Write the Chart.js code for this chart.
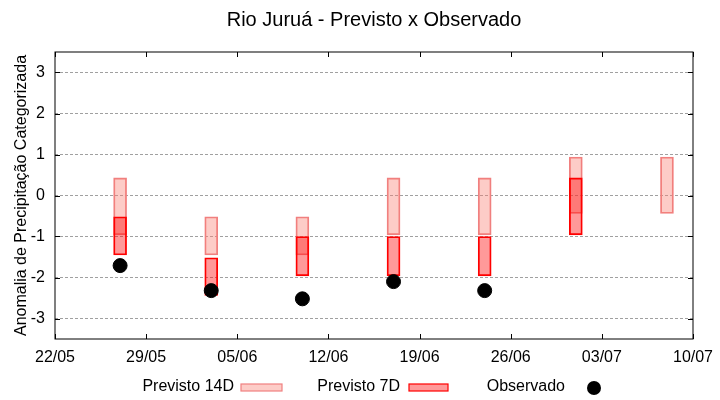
<!DOCTYPE html>
<html>
<head>
<meta charset="utf-8">
<script src="https://cdn.jsdelivr.net/npm/chart.js@4"></script>
<style>
  body { margin: 0; background: #fff; }
  #wrap { width: 720px; height: 400px; }
</style>
</head>
<body>
<div id="wrap"><canvas id="chart"></canvas></div>
<script>
// dias contados a partir de 22/05
const tickLabels = ['22/05', '29/05', '05/06', '12/06', '19/06', '26/06', '03/07', '10/07'];
const yTicks = [-3, -2, -1, 0, 1, 2, 3];
const days = [5, 12, 19, 26, 33, 40, 47];
const prev14Low = [-0.96, -1.45, -1.45, -0.96, -0.96, -0.44, -0.44];
const prev14High = [0.43, -0.52, -0.52, 0.43, 0.43, 0.94, 0.94];
const prev7Low = [-1.45, -2.44, -1.96, -1.96, -1.96, -0.96, null];
const prev7High = [-0.52, -1.52, -1.0, -1.0, -1.0, 0.43, null];
const observado = [-1.71, -2.32, -2.52, -2.1, -2.32, null, null];

const FONT = 'Liberation Sans, Arial, sans-serif';
Chart.defaults.font.family = FONT;
Chart.defaults.color = '#000';

const fill14 = 'rgba(250,128,114,0.4)';
const line14 = 'rgb(240,128,128)';
const fill7 = 'rgba(255,0,0,0.4)';
const line7 = 'rgb(255,0,0)';

function ranges(lo, hi) {
  const out = [];
  days.forEach((d, i) => {
    if (lo[i] !== null && hi[i] !== null) out.push({ x: d, y: [lo[i], hi[i]] });
  });
  return out;
}

const obsPoints = [];
days.forEach((d, i) => { if (observado[i] !== null) obsPoints.push({ x: d, y: observado[i] }); });

// moldura e marcas internas no estilo gnuplot
const frame = {
  id: 'frame',
  afterDraw(chart) {
    const { ctx, chartArea: a, scales: { x, y } } = chart;
    ctx.save();
    ctx.strokeStyle = '#000';
    ctx.lineWidth = 1;
    ctx.strokeRect(a.left, a.top, a.right - a.left, a.bottom - a.top);
    ctx.beginPath();
    x.ticks.forEach(t => {
      const px = Math.round(x.getPixelForValue(t.value)) + 0.5;
      ctx.moveTo(px, a.bottom); ctx.lineTo(px, a.bottom - 5);
      ctx.moveTo(px, a.top); ctx.lineTo(px, a.top + 5);
    });
    y.ticks.forEach(t => {
      const py = Math.round(y.getPixelForValue(t.value)) + 0.5;
      ctx.moveTo(a.left, py); ctx.lineTo(a.left + 5, py);
      ctx.moveTo(a.right, py); ctx.lineTo(a.right - 5, py);
    });
    ctx.stroke();
    ctx.restore();
  }
};

// legenda embaixo: texto, depois a amostra
const bottomLegend = {
  id: 'bottomLegend',
  afterDraw(chart) {
    const ctx = chart.ctx;
    const yc = 387;
    ctx.save();
    ctx.font = '16px ' + FONT;
    ctx.fillStyle = '#000';
    ctx.textAlign = 'right';
    ctx.textBaseline = 'middle';
    ctx.fillText('Previsto 14D', 234, yc);
    ctx.fillText('Previsto 7D', 400, yc);
    ctx.fillText('Observado', 565, yc);

    ctx.lineWidth = 1.2;
    ctx.fillStyle = fill14; ctx.strokeStyle = line14;
    ctx.fillRect(241, 384, 41, 7); ctx.strokeRect(241, 384, 41, 7);
    ctx.fillStyle = fill7; ctx.strokeStyle = line7;
    ctx.fillRect(409, 384, 39, 7); ctx.strokeRect(409, 384, 39, 7);

    ctx.fillStyle = '#000';
    ctx.beginPath();
    ctx.arc(594, 388, 7, 0, Math.PI * 2);
    ctx.fill();
    ctx.restore();
  }
};

new Chart(document.getElementById('chart'), {
  type: 'bar',
  data: {
    datasets: [
      {
        label: 'Observado',
        type: 'line',
        data: obsPoints,
        showLine: false,
        pointRadius: 7,
        pointHoverRadius: 7,
        pointBackgroundColor: '#000',
        pointBorderColor: '#000',
        order: 1
      },
      {
        label: 'Previsto 7D',
        data: ranges(prev7Low, prev7High),
        backgroundColor: fill7,
        borderColor: line7,
        borderWidth: 1.2,
        borderSkipped: false,
        barThickness: 13,
        grouped: false,
        order: 2
      },
      {
        label: 'Previsto 14D',
        data: ranges(prev14Low, prev14High),
        backgroundColor: fill14,
        borderColor: line14,
        borderWidth: 1.2,
        borderSkipped: false,
        barThickness: 13,
        grouped: false,
        order: 3
      }
    ]
  },
  options: {
    responsive: true,
    maintainAspectRatio: false,
    animation: false,
    layout: { padding: { left: 0, right: 27, top: 0, bottom: 0 } },
    plugins: {
      legend: { display: false },
      tooltip: { enabled: false },
      title: {
        display: true,
        text: 'Rio Juruá - Previsto x Observado',
        fullSize: false,
        color: '#000',
        font: { size: 20, weight: 'normal' },
        padding: { top: 8, bottom: 20 }
      }
    },
    scales: {
      x: {
        type: 'linear',
        min: 0,
        max: 49,
        offset: false,
        afterBuildTicks: s => { s.ticks = tickLabels.map((l, i) => ({ value: i * 7 })); },
        afterFit: s => { s.height = 61; },
        ticks: {
          callback: v => tickLabels[Math.round(v / 7)],
          font: { size: 16 },
          color: '#000',
          padding: 1,
          maxRotation: 0,
          autoSkip: false
        },
        grid: { display: false, offset: false },
        border: { display: false }
      },
      y: {
        min: -3.5,
        max: 3.5,
        afterBuildTicks: s => { s.ticks = yTicks.map(v => ({ value: v })); },
        afterFit: s => { s.width = 55; },
        ticks: { font: { size: 16 }, color: '#000', padding: 10 },
        grid: { color: '#a0a0a0', lineWidth: 1, drawTicks: false },
        border: { display: false, dash: [3, 2] },
        title: {
          display: true,
          text: 'Anomalia de Precipitação Categorizada',
          font: { size: 16 },
          color: '#000',
          padding: { top: 12, bottom: 0 }
        }
      }
    }
  },
  plugins: [frame, bottomLegend]
});
</script>
</body>
</html>
